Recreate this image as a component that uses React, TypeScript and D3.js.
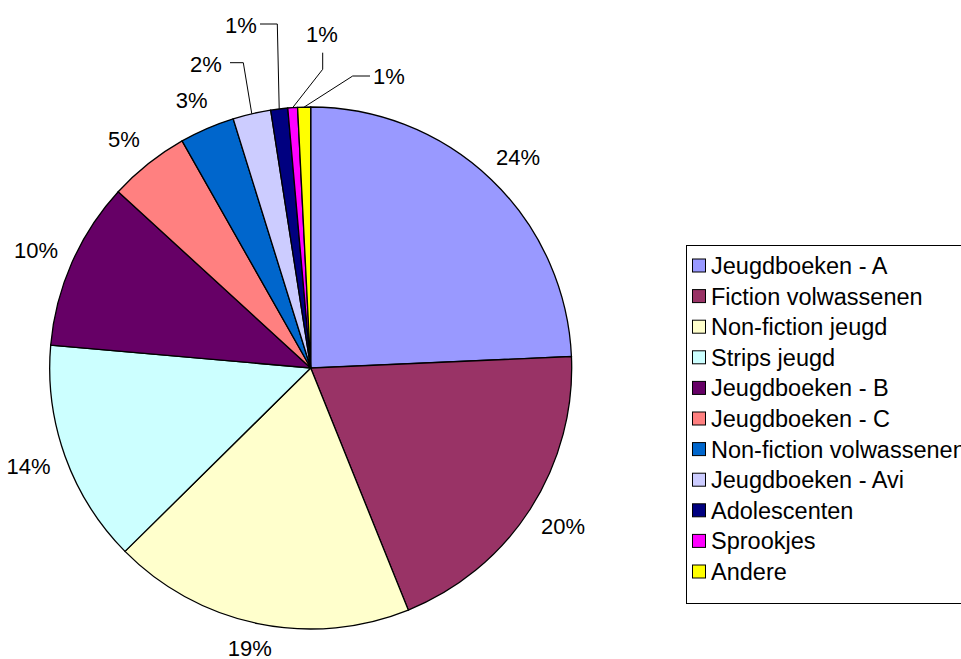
import React from "react";
import * as d3 from "d3";

// category names, share in percent, slice colours
const categories = [
  "Jeugdboeken - A",
  "Fiction volwassenen",
  "Non-fiction jeugd",
  "Strips jeugd",
  "Jeugdboeken - B",
  "Jeugdboeken - C",
  "Non-fiction volwassenen",
  "Jeugdboeken - Avi",
  "Adolescenten",
  "Sprookjes",
  "Andere",
];
const shares = [24.3, 19.6, 18.7, 13.8, 10.4, 5.0, 3.4, 2.35, 1.05, 0.6, 0.8];
const colors = [
  "#9999FF",
  "#993366",
  "#FFFFCC",
  "#CCFFFF",
  "#660066",
  "#FF8080",
  "#0066CC",
  "#CCCCFF",
  "#000080",
  "#FF00FF",
  "#FFFF00",
];

// labels that were dragged away from the pie, with a leader line
// (label centre, line start and elbow, relative to the pie centre)
const movedLabels: Record<
  string,
  { lx: number; ly: number; sx: number; sy: number; ex: number; ey: number }
> = {
  "Jeugdboeken - Avi": { lx: -104.7, ly: -304, sx: -80.7, sy: -305.3, ex: -67.4, ey: -305.3 },
  Adolescenten: { lx: -69.7, ly: -343, sx: -50.7, sy: -344, ex: -33.4, ey: -344 },
  Sprookjes: { lx: 11.3, ly: -333.3, sx: 12, sy: -315.3, ex: 12, ey: -298.7 },
  Andere: { lx: 78.3, ly: -291.5, sx: 59.3, sy: -292, ex: 42, ey: -292 },
};

const W = 961;
const H = 659;
const FONT = "'Liberation Sans', Arial, sans-serif";

const App = () => {
  const cx = 310.7;
  const cy = 368;
  const r = 261;
  const labelSize = 22;

  const data = categories.map((name, i) => ({ name, value: shares[i], color: colors[i] }));
  const pie = d3
    .pie<{ name: string; value: number; color: string }>()
    .sort(null)
    .value((d) => d.value)
    .startAngle(0)
    .endAngle(2 * Math.PI);
  const arcs = pie(data);
  const arc = d3.arc<d3.PieArcDatum<any>>().innerRadius(0).outerRadius(r);
  const edge = d3.arc<d3.PieArcDatum<any>>().innerRadius(r).outerRadius(r);

  const fmt = (v: number) => `${Math.round(v)}%`;

  // legend layout
  const lgX = 686;
  const lgY = 245;
  const lgW = 300;
  const lgH = 358;
  const rowH = 30.6;
  const firstRow = 266;

  return (
    <svg width={W} height={H} style={{ position: "absolute", left: 0, top: 0 }} fontFamily={FONT}>
      <rect width={W} height={H} fill="#fff" />
      <g transform={`translate(${cx},${cy})`}>
        {arcs.map((a) => (
          <path key={a.data.name} d={arc(a) || ""} fill={a.data.color} stroke="#000" strokeWidth={1.3} />
        ))}
        {arcs.map((a) => {
          const mid = (a.startAngle + a.endAngle) / 2;
          const s = Math.sin(mid);
          const c = -Math.cos(mid);
          const moved = movedLabels[a.data.name];
          const text = fmt(a.data.value);
          if (moved) {
            const [px, py] = edge.centroid(a);
            return (
              <g key={a.data.name}>
                <polyline
                  points={`${moved.sx},${moved.sy} ${moved.ex},${moved.ey} ${px},${py}`}
                  fill="none"
                  stroke="#000"
                  strokeWidth={1}
                />
                <text x={moved.lx} y={moved.ly} textAnchor="middle" dominantBaseline="central" fontSize={labelSize}>
                  {text}
                </text>
              </g>
            );
          }
          const g = r + 20;
          const x = g * s + 19 * s;
          let y = g * c + 11 * c;
          y = Math.min(y, H - cy - 11);
          return (
            <text key={a.data.name} x={x} y={y} textAnchor="middle" dominantBaseline="central" fontSize={labelSize}>
              {text}
            </text>
          );
        })}
      </g>
      <g>
        <rect x={lgX + 0.5} y={lgY + 0.5} width={lgW} height={lgH} fill="#fff" stroke="#000" strokeWidth={1} />
        {categories.map((name, i) => {
          const y = firstRow + i * rowH;
          return (
            <g key={name}>
              <rect x={692.5} y={y - 7} width={13} height={13} fill={colors[i]} stroke="#000" strokeWidth={1} />
              <text x={711} y={y} dominantBaseline="central" fontSize={23.5}>
                {name}
              </text>
            </g>
          );
        })}
      </g>
    </svg>
  );
};

export default App;
